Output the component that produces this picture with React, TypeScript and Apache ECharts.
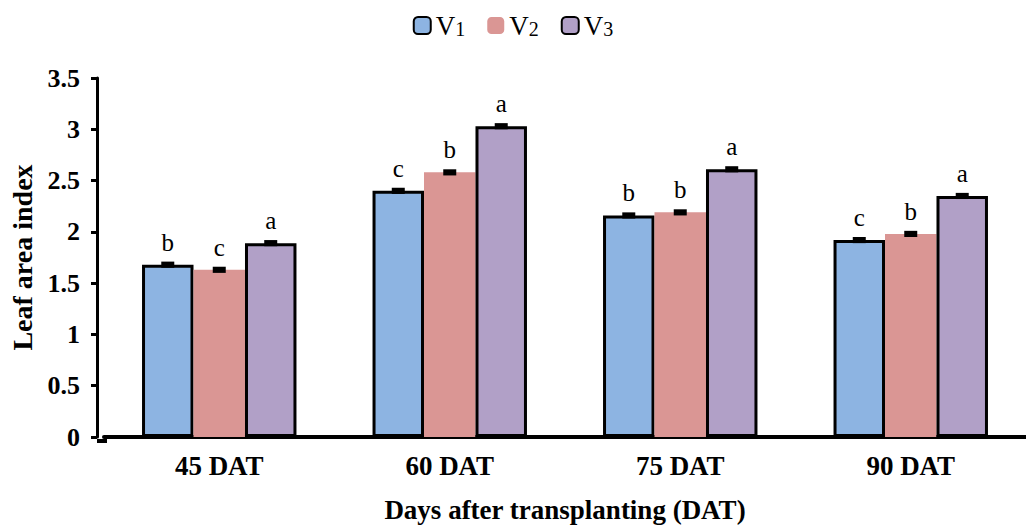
import React, { useEffect, useRef } from "react";
import * as echarts from "echarts";

const categories = ["45 DAT", "60 DAT", "75 DAT", "90 DAT"];
const seriesNames = ["V1", "V2", "V3"];
const v1 = [1.68, 2.4, 2.16, 1.92];
const v2 = [1.63, 2.58, 2.19, 1.98];
const v3 = [1.89, 3.03, 2.61, 2.35];
const e1 = [0.03, 0.03, 0.03, 0.03];
const e2 = [0.03, 0.03, 0.03, 0.03];
const e3 = [0.03, 0.03, 0.03, 0.03];
const l1 = ["b", "c", "b", "c"];
const l2 = ["c", "b", "b", "b"];
const l3 = ["a", "a", "a", "a"];
const yTicks = [0, 0.5, 1, 1.5, 2, 2.5, 3, 3.5];

const colors = ["#8db4e2", "#da9694", "#b1a0c7"];
const borders = [3, 0, 3];
const values = [v1, v2, v3];
const errs = [e1, e2, e3];
const letters = [l1, l2, l3];
const CAT_GAP = 0.33;

export default function App() {
  const ref = useRef<HTMLDivElement>(null);
  useEffect(() => {
    if (!ref.current) return;
    const chart = echarts.init(ref.current, undefined, { renderer: "svg" });
    const serif = "'Liberation Serif', 'Times New Roman', serif";
    const barSeries = values.map((vals, si) => ({
      name: seriesNames[si],
      type: "bar",
      data: vals,
      barGap: "0%",
      barCategoryGap: CAT_GAP * 100 + "%",
      itemStyle: {
        color: colors[si],
        borderColor: "#000",
        borderWidth: borders[si],
      },
      label: {
        show: true,
        position: "top",
        distance: 10,
        fontFamily: serif,
        fontSize: 25,
        color: "#000",
        formatter: (p: any) => letters[si][p.dataIndex],
      },
      z: 2,
    }));
    const errSeries = values.map((vals, si) => ({
      type: "custom",
      name: "err" + si,
      data: vals.map((v, i) => [i, v, errs[si][i]]),
      z: 5,
      renderItem: (params: any, api: any) => {
        const ci = api.value(0);
        const v = api.value(1);
        const e = api.value(2);
        const band = api.size([1, 0])[0];
        const bw = (band * (1 - CAT_GAP)) / 3;
        const c = api.coord([ci, v]);
        const hi = api.coord([ci, v + e]);
        const lo = api.coord([ci, v - e]);
        const x = c[0] + (si - 1) * bw;
        const w = 13;
        return {
          type: "rect",
          shape: { x: x - w / 2, y: hi[1], width: w, height: Math.max(lo[1] - hi[1], 6) },
          style: { fill: "#000" },
        };
      },
    }));
    chart.setOption({
      animation: false,
      legend: {
        data: seriesNames,
        top: 7,
        left: "center",
        itemWidth: 17,
        itemHeight: 17,
        itemGap: 22,
        textStyle: {
          fontFamily: serif,
          fontSize: 27,
          color: "#000",
          rich: {
            v: { fontFamily: serif, fontSize: 27, color: "#000" },
            n: { fontFamily: serif, fontSize: 20, color: "#000", verticalAlign: "bottom", padding: [6, 0, 0, 0] },
          },
        },
        formatter: (name: string) => `{v|${name.slice(0, 1)}}{n|${name.slice(1)}}`,
      },
      graphic: [
        { type: "rect", shape: { x: 97, y: 439, width: 10, height: 4 }, style: { fill: "#000" }, z: 10 },
      ],
      grid: { left: 104, right: -11, top: 78, bottom: 87, containLabel: false },
      xAxis: {
        type: "category",
        data: categories,
        axisLine: { lineStyle: { color: "#000", width: 4 } },
        axisTick: { show: false },
        axisLabel: {
          fontFamily: serif,
          fontWeight: "bold",
          fontSize: 27,
          color: "#000",
          margin: 15,
        },
        name: "Days after transplanting (DAT)",
        nameLocation: "middle",
        nameGap: 59,
        nameTextStyle: { fontFamily: serif, fontWeight: "bold", fontSize: 27, color: "#000" },
      },
      yAxis: {
        type: "value",
        offset: 7,
        min: yTicks[0],
        max: yTicks[yTicks.length - 1],
        interval: 0.5,
        splitLine: { show: false },
        axisLine: { show: true, lineStyle: { color: "#000", width: 3 } },
        axisTick: { show: true, inside: false, length: 6, lineStyle: { color: "#000", width: 3 } },
        axisLabel: {
          fontFamily: serif,
          fontWeight: "bold",
          fontSize: 26,
          color: "#000",
          margin: 17,
        },
        name: "Leaf area index",
        nameLocation: "middle",
        nameGap: 55,
        nameTextStyle: { fontFamily: serif, fontWeight: "bold", fontSize: 28, color: "#000" },
      },
      series: [...barSeries, ...errSeries],
    });
    return () => chart.dispose();
  }, []);
  return <div ref={ref} style={{ width: 1026, height: 528, position: "absolute", left: 0, top: 0 }} />;
}
